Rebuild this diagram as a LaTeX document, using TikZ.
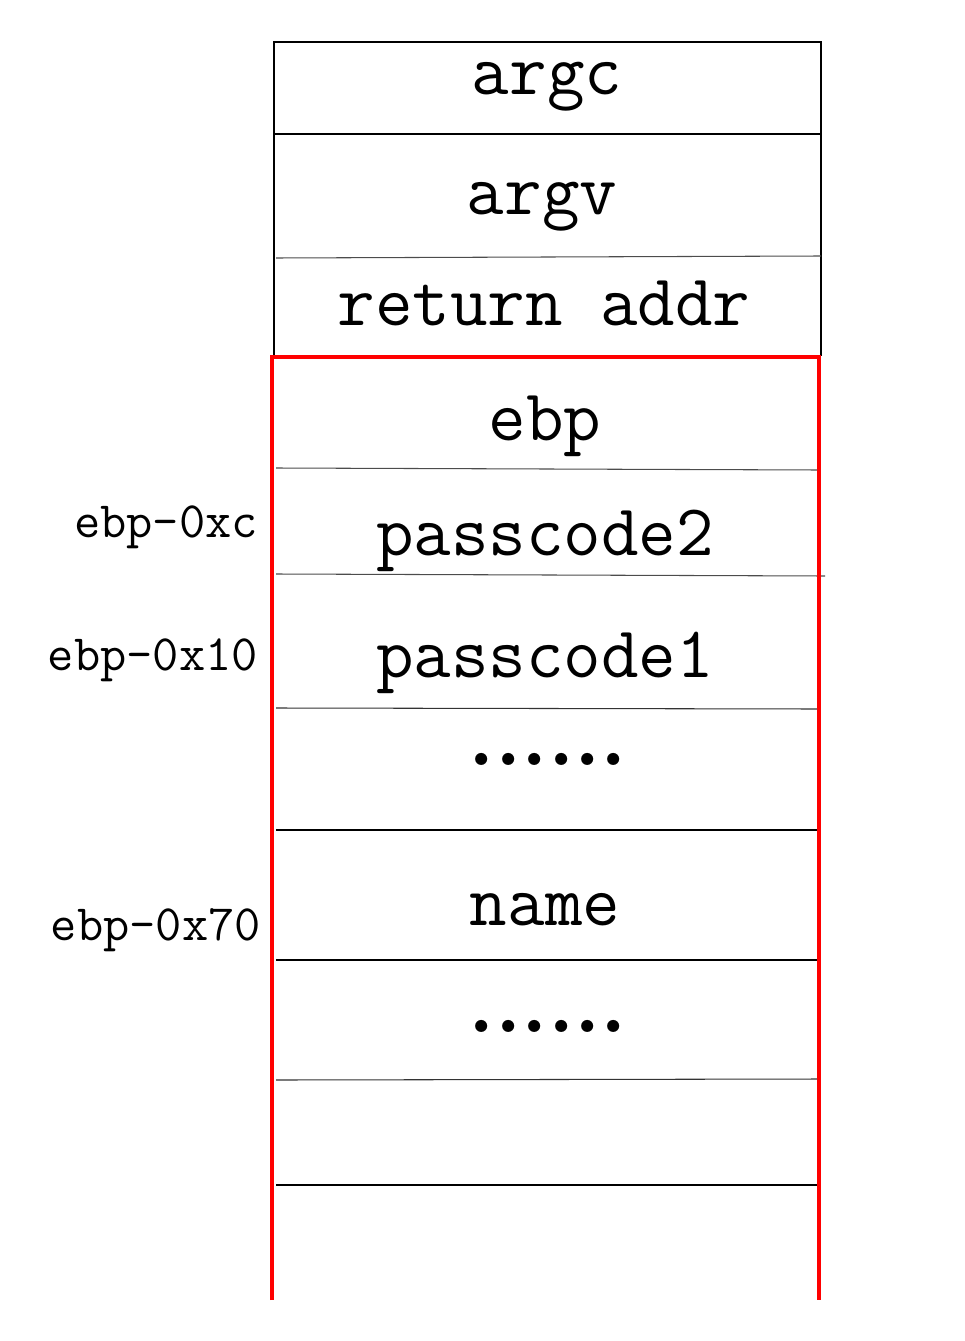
\documentclass[tikz,border=0pt]{standalone}
\usepackage{tikz}

\tikzset{
  cell/.style={anchor=base, font=\ttfamily\fontsize{41.5}{48}\selectfont},
  dotrow/.style={anchor=base, font=\rmfamily\bfseries\fontsize{48}{58}\selectfont},
  offset/.style={anchor=base east, font=\ttfamily\fontsize{29}{34}\selectfont},
  divider/.style={line width=0.6pt},
  frame/.style={line width=0.9pt},
  stackframe/.style={red, line width=2.1pt}
}

\begin{document}
\begin{tikzpicture}[x=0.02cm, y=-0.02cm]

  \useasboundingbox (0, 0) rectangle (964, 1341);

  % caller part of the stack
  \draw[frame] (274, 356) -- (274, 42) -- (821, 42) -- (821, 356);
  \draw[divider] (274, 134) -- (821, 134);
  \draw[divider, black!70] (276, 258) -- (821, 256);
  \draw[divider] (274, 356) -- (821, 356);

  % dividers inside the frame
  \draw[divider, black!70] (276, 468) -- (819, 470);
  \draw[divider, black!70] (276, 574) -- (825, 576);
  \draw[divider, black!80] (276, 708) -- (819, 709);
  \draw[divider] (276, 830) -- (819, 830);
  \draw[divider] (276, 960) -- (819, 960);
  \draw[divider, black!80] (276, 1080) -- (819, 1079);
  \draw[divider] (276, 1185) -- (819, 1185);

  % current frame, open at the bottom
  \draw[stackframe] (272, 1300) -- (272, 357) -- (819, 357) -- (819, 1300);

  \node[cell] (argc) at (547, 95) {argc};
  \node[cell] (argv) at (542, 215) {argv};
  \node[cell] (ret) at (544, 325) {return addr};
  \node[cell] (ebp) at (545, 440) {ebp};
  \node[cell] (pc2) at (545, 555) {passcode2};
  \node[cell] (pc1) at (545, 677) {passcode1};
  \node[dotrow] (dotsa) at (548, 765) {......};
  \node[cell] (name) at (545, 925) {name};
  \node[dotrow] (dotsb) at (548, 1032) {......};

  \node[offset] (offc) at (264, 537) {ebp-0xc};
  \node[offset] (off10) at (264, 670) {ebp-0x10};
  \node[offset] (off70) at (267, 940) {ebp-0x70};

\end{tikzpicture}
\end{document}
